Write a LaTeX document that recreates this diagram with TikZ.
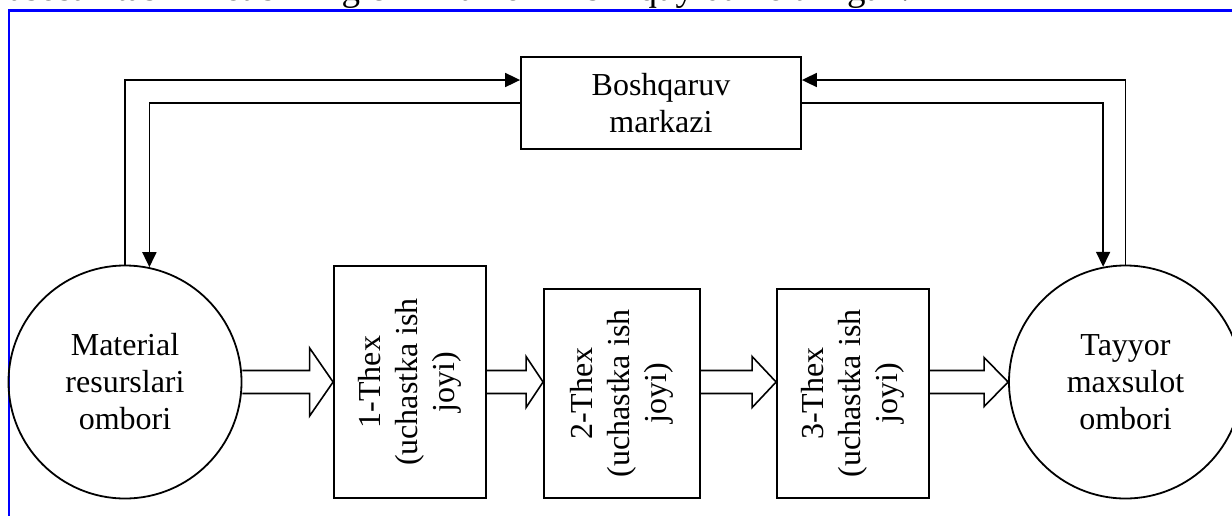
\documentclass[tikz,border=0pt]{standalone}
\usepackage{fontspec}
\setmainfont{Liberation Serif}
\usetikzlibrary{arrows.meta,calc}

\begin{document}
\begin{tikzpicture}[x=1pt,y=-1pt,
        every node/.style={font=\fontsize{32}{37}\selectfont},
        ombor/.style={draw,circle,line width=1.8pt,minimum size=233pt,inner sep=0pt,align=center},
        sex/.style={draw,rectangle,line width=1.8pt,inner sep=0pt},
        link/.style={line width=1.8pt,-{Triangle[length=15pt,width=14pt]}},
        flow/.style={line width=1.6pt}]
        \useasboundingbox (0,0) rectangle (1232,515);
        \clip (0,0) rectangle (1232,515);

        \node[anchor=base west,font=\fontsize{37}{44}\selectfont] (matn) at (5,0.5) {asosan tashkil etishning chizma ko'rinishi quyida keltirilgan.};
        \draw[blue,line width=2.2pt] (9,530) -- (9,10.5) -- (1240,10.5);

        \newcommand\thex[1]{\rotatebox{90}{\begin{tabular}{@{}c@{}}#1-Thex\\(uchastka ish\\joyi)\end{tabular}}}
        \newcommand\oqim[4]{\draw[flow] let \p1=(#1.east), \p2=(#2.west), \p3=(ombor1.center) in
            (\x1,\y3+11.5pt) -- (\x2-#3pt,\y3+11.5pt) -- (\x2-#3pt,\y3+#4pt) -- (\x2,\y3)
            -- (\x2-#3pt,\y3-#4pt) -- (\x2-#3pt,\y3-11.5pt) -- (\x1,\y3-11.5pt);}

        \node[ombor] (ombor1) at (125,382) {Material\\resurslari\\ombori};
        \node[ombor] (ombor2) at (1125.5,382) {Tayyor\\maxsulot\\ombori};
        \node[sex,minimum width=280pt,minimum height=92pt,align=center] (markaz) at (661,103) {Boshqaruv\\markazi};

        \node[sex,minimum width=152pt,minimum height=232pt] (sex1) at (410,382) {\thex{1}};
        \node[sex,minimum width=156pt,minimum height=209pt] (sex2) at (622,393.5) {\thex{2}};
        \node[sex,minimum width=152pt,minimum height=209pt] (sex3) at (853,393.5) {\thex{3}};

        \oqim{ombor1}{sex1}{23.5}{34}
        \oqim{sex1}{sex2}{17}{25.5}
        \oqim{sex2}{sex3}{24}{25.5}
        \oqim{sex3}{ombor2}{24}{24.5}

        \draw[link] (ombor1.north) |- ([yshift=23pt]markaz.west);
        \draw[link] (markaz.west) -| (ombor1.78.6);
        \draw[link] (ombor2.north) |- ([yshift=23pt]markaz.east);
        \draw[link] (markaz.east) -| (ombor2.101.4);
    \end{tikzpicture}
\end{document}
